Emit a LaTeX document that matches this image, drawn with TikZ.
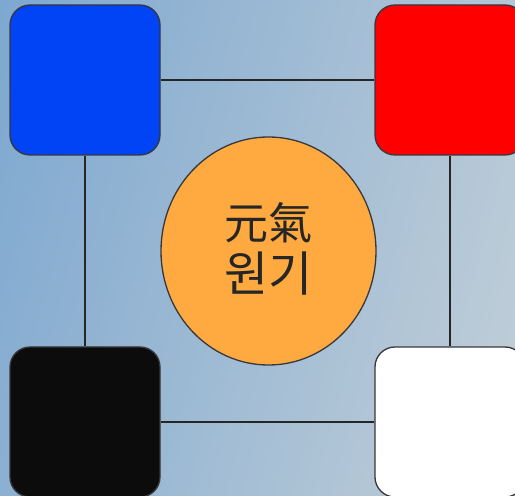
\documentclass[tikz,border=0pt]{standalone}
\usepackage{fontspec}
\usetikzlibrary{shapes.geometric}
\newfontfamily\cjk{Noto Sans CJK KR}
\definecolor{bgl}{RGB}{126,168,208}
\definecolor{bgr}{RGB}{194,207,216}
\definecolor{sqblue}{RGB}{0,68,245}
\definecolor{sqred}{RGB}{255,0,0}
\definecolor{sqblack}{RGB}{12,12,12}
\definecolor{orb}{RGB}{255,170,64}
\definecolor{edge}{RGB}{55,55,60}
\begin{document}
\begin{tikzpicture}[x=1pt,y=1pt,
  sq/.style={rounded corners=20pt,minimum width=150pt,minimum height=150pt,draw=edge,line width=1.3pt,inner sep=0pt},
  link/.style={draw=black!85,line width=1.7pt}]
\useasboundingbox (0,0) rectangle (515,496);
\clip (0,0) rectangle (515,496);
\shade[left color=bgl,right color=bgr,shading angle=75] (-60,-60) rectangle (575,556);
\node[sq,fill=sqblue] (blue) at (85,416) {};
\node[sq,fill=sqred] (red) at (450,416) {};
\node[sq,fill=sqblack] (black) at (85,74) {};
\node[sq,fill=white] (white) at (450,74) {};
\node[ellipse,draw=edge,line width=1.3pt,fill=orb,minimum width=215pt,minimum height=228pt,inner sep=0pt] (orb) at (268.5,245) {};
\node[text=black!85,align=center,font=\cjk\fontsize{44}{52}\selectfont] (txt) at (268.5,247) {元氣\\{\fontsize{48}{52}\selectfont 원기}};
\draw[link] (blue.east) -- (red.west);
\draw[link] (blue.south) -- (black.north);
\draw[link] (red.south) -- (white.north);
\draw[link] (black.east) -- (white.west);
\end{tikzpicture}
\end{document}
